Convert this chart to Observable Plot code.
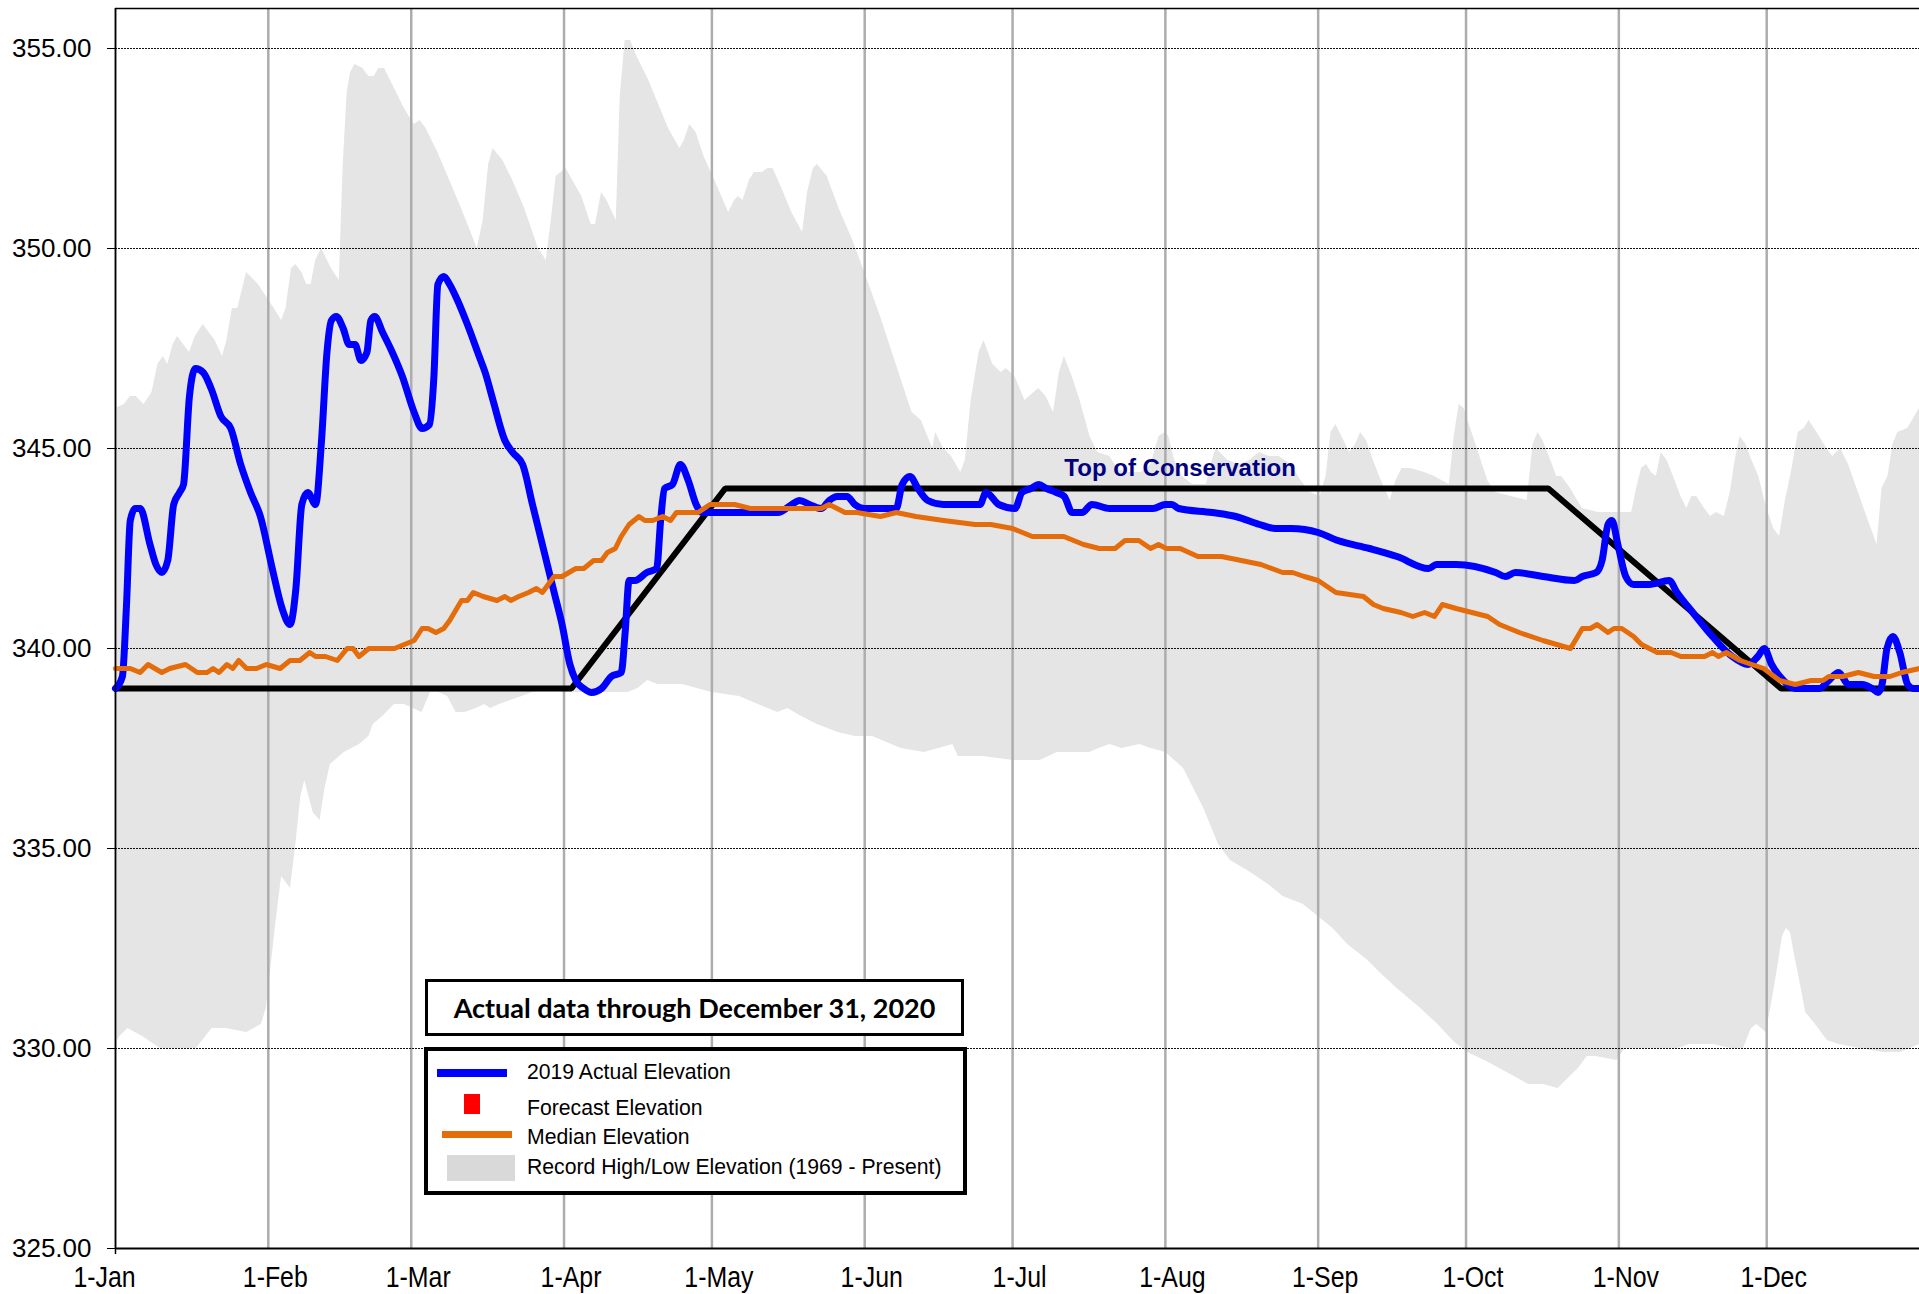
<!DOCTYPE html>
<html>
<head>
<meta charset="utf-8">
<script src="https://cdn.jsdelivr.net/npm/d3@7"></script>
<script src="https://cdn.jsdelivr.net/npm/@observablehq/plot@0.6"></script>
<style>
  html, body { margin: 0; padding: 0; background: #fff; }
  #wrap { position: relative; width: 1919px; height: 1294px; overflow: hidden; font-family: "Liberation Sans", Arial, sans-serif; }
  .abs { position: absolute; box-sizing: border-box; }
  .ltxt { position: absolute; font-size: 21.2px; line-height: 21px; white-space: nowrap; color: #000; }
</style>
</head>
<body>
<div id="wrap">
  <div id="chart"></div>
  <div class="abs" style="left:425px;top:979px;width:539px;height:57px;border:3px solid #000;background:#fff;display:flex;align-items:center;justify-content:center;font-family:Lato,'Open Sans',sans-serif;font-weight:bold;font-size:27px;">Actual data through December 31, 2020</div>
  <div class="abs" style="left:424px;top:1047px;width:543px;height:148px;border:4.5px solid #000;background:#fff;"></div>
  <div class="abs" style="left:437px;top:1069px;width:70px;height:8px;background:#0000ff;"></div>
  <div class="ltxt" style="left:527px;top:1061px;">2019 Actual Elevation</div>
  <div class="abs" style="left:464px;top:1094px;width:16px;height:20px;background:#ff0000;"></div>
  <div class="ltxt" style="left:527px;top:1097px;">Forecast Elevation</div>
  <div class="abs" style="left:442px;top:1131px;width:70px;height:7px;background:#e46c0a;"></div>
  <div class="ltxt" style="left:527px;top:1126px;">Median Elevation</div>
  <div class="abs" style="left:447px;top:1155px;width:68px;height:26px;background:#d9d9d9;"></div>
  <div class="ltxt" style="left:527px;top:1156px;">Record High/Low Elevation (1969 - Present)</div>
</div>
<script>
// ---- data (day offsets from 1-Jan-2020, elevations in ft) ----
const monthLabels = ["1-Jan","1-Feb","1-Mar","1-Apr","1-May","1-Jun","1-Jul","1-Aug","1-Sep","1-Oct","1-Nov","1-Dec"];
const yTicks = [325, 330, 335, 340, 345, 350, 355];

const actualDays = [0,1.4,2.2,3,4,5,7,8.2,9.4,10.6,11.8,13,13.8,15,16.2,17.8,19.4,21.4,23.4,25.4,27.4,29.4,31.8,33.8,35.4,36.6,37.8,39,40.6,41.8,42.9,43.8,44.8,46.2,47.4,48.6,49.8,51,51.8,52.6,54.2,55.8,58.2,60.6,62.2,63.7,64.6,65.4,66.6,67.8,69.4,71.4,73.8,75,76.6,79,80.6,82.6,84.6,87,89,90.6,92.2,93.4,95,96.6,98.6,100.6,102.6,103.4,104.2,105.4,107.8,109.8,110.6,111.4,113,114.6,116.2,117.8,119,121,126.4,134.4,137.2,138.8,140.8,143.2,144.8,146.4,148.4,150,152,158.4,159.6,161.2,162.8,164.8,168,173.6,175.4,176.6,179.2,182.5,183.9,185.7,187.3,188.9,190.9,192.5,194.1,196.1,198.1,201.7,210.5,213,214.3,215.7,222.5,227.3,232.1,235.3,238.5,244,248,254.4,260,266.4,268,272,280,282,284,289.6,296,297.6,300.4,301.6,302.8,303.6,304.8,306.4,308,311.2,315.2,316.8,320,324,328,331.2,333.2,334.5,336,338.4,340.8,345.6,347.6,349.6,351.6,354.4,356.4,357.6,358.4,359.4,360.6,362,363.6,364.8,366];
const actualValues = [339.0,339.3,341.0,343.2,343.5,343.5,342.6,342.1,341.9,342.2,343.6,343.9,344.1,346.3,347.0,346.9,346.5,345.8,345.5,344.6,343.9,343.3,342.0,341.0,340.6,341.5,343.6,343.9,343.6,345.2,347.4,348.2,348.3,348.0,347.6,347.6,347.2,347.4,348.2,348.3,347.9,347.5,346.8,345.9,345.5,345.6,346.8,349.1,349.3,349.1,348.7,348.1,347.3,346.9,346.2,345.2,344.9,344.6,343.6,342.4,341.4,340.6,339.6,339.2,339.0,338.9,339.0,339.3,339.4,340.4,341.7,341.7,341.9,342.0,343.2,344.0,344.1,344.6,344.2,343.6,343.4,343.4,343.4,343.4,343.6,343.7,343.6,343.5,343.7,343.8,343.8,343.6,343.5,343.5,344.1,344.3,344.0,343.7,343.6,343.6,343.6,343.9,343.6,343.5,343.9,344.0,344.1,344.0,343.9,343.8,343.4,343.4,343.6,343.5,343.5,343.6,343.6,343.5,343.4,343.3,343.1,343.0,343.0,342.9,342.7,342.5,342.3,342.0,342.1,342.1,341.9,341.8,341.9,341.8,341.7,341.8,341.9,342.2,343.1,343.2,342.6,341.8,341.6,341.6,341.7,341.4,340.9,340.3,339.8,339.6,339.8,340.0,339.6,339.2,339.0,339.0,339.2,339.4,339.1,339.1,339.0,338.9,339.1,340.0,340.3,339.9,339.1,339.0,339.0];

const medianDays = [0,3,5,6.6,9.4,11,14.2,16.6,18.6,19.8,21,22.6,23.8,25,26.6,28.6,30.6,33.4,35.4,37.4,39.4,40.6,42.6,45,47,48.2,49.4,51.4,53.8,55,56.6,58.6,60.6,62.2,63.4,65,66.6,67.8,70.2,71.4,72.6,74.6,77.4,79,80.2,81.8,83.8,85.4,86.6,89,90.6,93.4,95,97,98.6,99.8,101.4,102.6,104.2,106.2,107.4,109,111,112.6,113.8,116.2,118.2,120.6,123.2,125.6,128.8,132,135.2,138.4,140,143.2,144.8,148,150.4,155.2,158.4,162.4,168,174.4,177.6,182,186,189.2,192.4,196.4,199.6,202.8,204.8,207.6,210,211.6,213.2,216,219.6,224.4,228.4,232.4,236.8,238.8,241.2,244,247.6,253.2,255.2,257.2,260.8,263.2,265.6,267.6,269.2,272,278.4,280.8,284.8,289.6,295.2,297.6,299.2,300.6,302.8,304,305.6,308,309.6,311.2,312.8,315.6,317.6,319.2,322.4,324,325.2,326.8,329.6,334.4,337.6,340.8,344,346.4,347.6,350.4,353.6,356.8,360,362.4,366];
const medianValues = [339.5,339.5,339.4,339.6,339.4,339.5,339.6,339.4,339.4,339.5,339.4,339.6,339.5,339.7,339.5,339.5,339.6,339.5,339.7,339.7,339.9,339.8,339.8,339.7,340.0,340.0,339.8,340.0,340.0,340.0,340.0,340.1,340.2,340.5,340.5,340.4,340.5,340.7,341.2,341.2,341.4,341.3,341.2,341.3,341.2,341.3,341.4,341.5,341.4,341.8,341.8,342.0,342.0,342.2,342.2,342.4,342.5,342.8,343.1,343.3,343.2,343.2,343.3,343.2,343.4,343.4,343.4,343.6,343.6,343.6,343.5,343.5,343.5,343.5,343.5,343.5,343.6,343.4,343.4,343.3,343.4,343.3,343.2,343.1,343.1,343.0,342.8,342.8,342.8,342.6,342.5,342.5,342.7,342.7,342.5,342.6,342.5,342.5,342.3,342.3,342.2,342.1,341.9,341.9,341.8,341.7,341.4,341.3,341.1,341.0,340.9,340.8,340.9,340.8,341.1,341.0,340.8,340.6,340.4,340.2,340.0,340.5,340.5,340.6,340.4,340.5,340.5,340.3,340.1,340.0,339.9,339.9,339.8,339.8,339.8,339.9,339.8,339.9,339.7,339.5,339.2,339.1,339.2,339.2,339.3,339.3,339.4,339.3,339.3,339.4,339.5];

const highDays = [0,1.8,3,4.2,5.8,7.4,8.6,9.7,10.6,11.7,12.6,13.8,15,16.2,17.8,19,20.2,21.7,22.6,23.7,24.8,26.6,29,30.6,32.2,33.7,34.6,35.7,36.6,37.8,38.8,39.7,40.6,41.8,43.8,45.4,46.2,47,47.7,48.6,50.2,51.4,52.5,53.4,54.6,56.6,58.6,60.6,61.8,63,65.4,67.8,70.2,71.8,73.4,74.6,75.7,76.6,78.6,80.6,83,85.8,87.4,88.5,89.4,91.4,94.6,96.5,97.4,98.6,99.7,101.6,102.4,103.4,104.5,105.8,108.2,110.2,112.2,114.5,115.4,116.5,117.8,119.4,121.6,124.4,125.6,126.4,127.3,128.6,129.6,131.2,132.4,133.4,135.2,137.2,139.4,140.4,141.6,142.4,144.4,146.8,149.6,152,155.2,157.6,160,161.6,163.5,164.8,165.8,166.4,168,169.6,171.5,172.4,173.6,175.2,176.2,178,179.7,180.7,182.5,184.5,187.3,188.8,190.3,191.5,192.5,194.1,195.7,197.7,199.3,201.7,203.3,204.9,208.1,210.1,211.7,212.9,213.7,214.9,216.5,218.5,221.3,222.5,223.3,225.7,228.1,230.1,232.1,234.1,236.1,238.5,240.5,242.4,244.4,245.6,246.6,247.6,248.8,250.4,251.6,252.6,253.8,255.2,256.8,258.6,259.8,261,262.8,265.6,267.6,270.6,271.6,272.6,273.6,275.2,276.8,278.4,280,283.2,286.4,287.6,288.6,289.6,291.2,292.4,293.4,295.2,297.6,300.8,304.8,307.6,308.6,309.6,310.6,311.6,312.6,313.6,314.8,316.4,317.6,318.8,319.8,320.8,322.4,323.6,324.8,326.4,327.6,328.6,329.6,330.8,332,333.4,334.8,336.4,337.6,338.8,340,341.4,342.6,343.6,345.2,347.2,348.4,350,351.6,353.6,355.6,357.4,358.4,359.6,360.6,361.6,363.6,366];
const highValues = [346.0,346.1,346.3,346.3,346.1,346.4,347.1,347.3,347.1,347.6,347.8,347.6,347.4,347.8,348.1,347.9,347.7,347.3,347.7,348.5,348.5,349.4,349.1,348.8,348.5,348.2,348.5,349.5,349.6,349.4,349.1,349.1,349.7,350.0,349.5,349.2,352.1,353.9,354.4,354.6,354.5,354.3,354.3,354.5,354.5,354.0,353.5,353.1,353.2,353.0,352.4,351.7,351.0,350.5,350.0,350.7,352.1,352.5,352.2,351.7,351.0,350.0,349.7,350.8,351.8,352.0,351.3,350.6,350.6,351.4,351.2,350.7,353.8,355.2,355.2,354.8,354.2,353.6,353.0,352.5,352.7,353.1,352.9,352.3,351.7,350.9,351.2,351.3,351.2,351.7,351.9,351.9,352.0,352.0,351.5,350.9,350.4,351.4,352.0,352.1,351.8,351.0,350.2,349.4,348.3,347.4,346.5,345.9,345.7,345.3,345.0,345.4,345.0,344.8,344.4,344.7,346.2,347.4,347.7,347.1,346.9,347.0,346.8,346.2,346.5,346.3,345.9,346.9,347.3,346.8,346.2,345.3,344.9,344.8,344.5,344.4,344.4,344.6,345.3,345.4,345.3,344.7,344.3,344.1,344.1,344.7,345.0,344.7,344.6,344.7,344.9,344.8,344.8,344.6,344.2,343.9,343.8,344.3,345.4,345.6,345.3,344.9,345.1,345.4,345.2,344.7,344.2,343.7,344.2,344.5,344.5,344.4,344.3,344.1,345.3,346.1,346.0,345.4,344.8,344.2,343.9,343.8,343.7,345.1,345.4,345.2,344.7,344.3,344.3,344.0,343.5,343.4,343.4,343.4,344.0,344.5,344.6,344.4,344.3,344.9,344.7,344.2,343.8,343.5,343.8,343.8,343.5,343.3,343.4,343.3,343.9,344.7,345.3,345.1,344.7,344.3,343.6,343.0,342.8,343.7,344.4,345.4,345.5,345.7,345.4,345.0,344.8,345.0,344.6,343.9,343.2,342.6,344.0,344.3,345.1,345.4,345.5,346.0];

const lowDays = [0,0.9,2.5,5.5,9.1,16.4,19.6,22.5,26.6,29.6,30.6,31.6,32.6,33.7,35.5,36.5,37.6,38.4,40.1,41.5,42.5,43.6,46.4,49.5,51.4,52.3,54.2,56.6,58.6,60.4,62.2,63.9,65.6,67.4,69.1,70.9,73.2,74.9,76.1,77.9,80.2,82.5,84.6,88.3,91,95,100,104,106,108,110,115,121,126.6,130.4,134.4,136.4,139.2,142.4,146.6,150.1,153.6,159.4,164.1,169.9,171,176,182.2,187.6,191.1,194.1,197.7,199.5,201.8,204.2,207.8,210.1,213.1,216.7,220.8,223.8,226.2,230.3,233.9,236.9,241,244,247,250,254.1,256.5,260,264.8,268.3,271.3,274.3,277.8,280.8,283.8,286.7,289.7,292.7,295.1,296.8,298.6,300.4,304.6,306.3,312.3,317,319.4,321.2,324.2,327.7,330.3,331.9,333,334.9,336.1,337.2,338.2,339,339.8,340.7,342,342.9,344.9,347.3,349.7,353.9,358.6,362.2,366];
const lowValues = [330.1,330.3,330.5,330.3,330.0,330.0,330.5,330.5,330.4,330.6,331.0,332.1,333.2,334.3,334.0,335.0,336.3,336.7,335.9,335.7,336.5,337.1,337.4,337.6,337.8,338.1,338.3,338.6,338.6,338.5,338.4,338.9,338.9,338.8,338.4,338.4,338.5,338.6,338.5,338.6,338.7,338.8,338.9,339.0,338.9,338.9,338.9,338.9,339.0,339.2,339.1,339.1,338.9,338.8,338.6,338.4,338.5,338.3,338.1,337.9,337.8,337.8,337.5,337.4,337.6,337.3,337.3,337.2,337.2,337.4,337.4,337.4,337.5,337.6,337.5,337.6,337.5,337.4,337.0,336.0,335.1,334.7,334.4,334.1,333.8,333.6,333.3,333.0,332.6,332.2,331.9,331.5,331.0,330.6,330.2,329.9,329.7,329.5,329.3,329.1,329.1,329.0,329.3,329.5,329.8,329.8,329.7,330.0,330.0,330.0,330.1,330.1,330.1,330.0,330.0,330.5,330.6,330.4,331.2,332.0,332.8,333.0,332.9,332.3,331.5,330.9,330.6,330.2,330.1,330.0,329.9,329.9,330.1];

const ruleDays = [0, 92.5, 123.7, 290.7, 337.9, 366];
const ruleValues = [339, 339, 344, 344, 339, 339];

const labelDay = 216;
const labelValue = 344.5;
const labelText = "Top of Conservation";

// ---- build tables ----
const t0 = Date.UTC(2020, 0, 1);
const toDate = d => new Date(t0 + d * 86400000);
const zip = (ds, vs) => ds.map((d, i) => ({date: toDate(d), v: vs[i]}));
const actual = zip(actualDays, actualValues);
const median = zip(medianDays, medianValues);
const high = zip(highDays, highValues);
const low = zip(lowDays, lowValues);
const rule = zip(ruleDays, ruleValues);
const xStart = new Date(t0);
const xEnd = new Date(Date.UTC(2021, 0, 1));
const monthTicks = d3.utcMonth.range(xStart, xEnd);
const gridY = yTicks.filter(v => v > 325);
const monthLabel = d => monthLabels[d.getUTCMonth()];
const xLabelStyle = {x: d => d, text: monthLabel, frameAnchor: "bottom", lineAnchor: "top", dy: 17, fontSize: 30, fill: "#000"};

const chart = Plot.plot({
  width: 1919,
  height: 1294,
  marginTop: 8,
  marginBottom: 46,
  marginLeft: 115,
  marginRight: 0,
  style: {fontFamily: '"Liberation Sans", Arial, sans-serif', background: "transparent", color: "#000", overflow: "visible"},
  x: {type: "utc", domain: [xStart, xEnd], axis: null},
  y: {domain: [325, 356]},
  marks: [
    Plot.areaY(high, {x: "date", y1: 325, y2: "v", fill: "#e5e5e5"}),
    Plot.areaY(low, {x: "date", y1: 325, y2: "v", fill: "#ffffff"}),
    Plot.ruleX(monthTicks, {stroke: "#adadad", strokeWidth: 2.5}),
    Plot.ruleY(gridY, {stroke: "#111", strokeWidth: 1, strokeDasharray: "2,1"}),
    Plot.line(rule, {x: "date", y: "v", stroke: "#000", strokeWidth: 6, strokeLinejoin: "miter"}),
    Plot.line(actual, {x: "date", y: "v", stroke: "#0000ff", strokeWidth: 7, curve: "monotone-x", strokeLinejoin: "round"}),
    Plot.line(median, {x: "date", y: "v", stroke: "#e46c0a", strokeWidth: 5, strokeLinejoin: "round"}),
    Plot.text([labelText], {x: toDate(labelDay), y: labelValue, text: d => d, fill: "#000080", fontWeight: "bold", fontSize: 24, textAnchor: "middle"}),
    Plot.axisY({ticks: yTicks, tickFormat: d3.format(".2f"), tickSize: 8, tickPadding: 16, fontSize: 26, label: null}),
    Plot.text(monthTicks.slice(0, 1), {...xLabelStyle, dx: -11}),
    Plot.text(monthTicks.slice(1), {...xLabelStyle, dx: 7}),
    Plot.ruleX([xStart], {y1: 356, y2: 325, insetBottom: -6, stroke: "#000", strokeWidth: 1.5}),
    Plot.ruleY([325], {stroke: "#000", strokeWidth: 2}),
    Plot.ruleY([356], {stroke: "#000", strokeWidth: 1.5})
  ]
});
// horizontally condense the date labels (narrow face as in the original)
chart.querySelectorAll("text").forEach(t => {
  if (!monthLabels.includes(t.textContent.trim())) return;
  const tr = t.getAttribute("transform");
  if (tr) {
    t.setAttribute("transform", tr + " scale(0.83,1)");
  } else {
    const x = +(t.getAttribute("x") || 0), y = +(t.getAttribute("y") || 0);
    t.removeAttribute("x"); t.removeAttribute("y");
    t.setAttribute("transform", `translate(${x},${y}) scale(0.83,1)`);
  }
});
chart.style.position = "absolute";
chart.style.left = "0px";
chart.style.top = "0px";
document.getElementById("chart").appendChild(chart);
</script>
</body>
</html>
